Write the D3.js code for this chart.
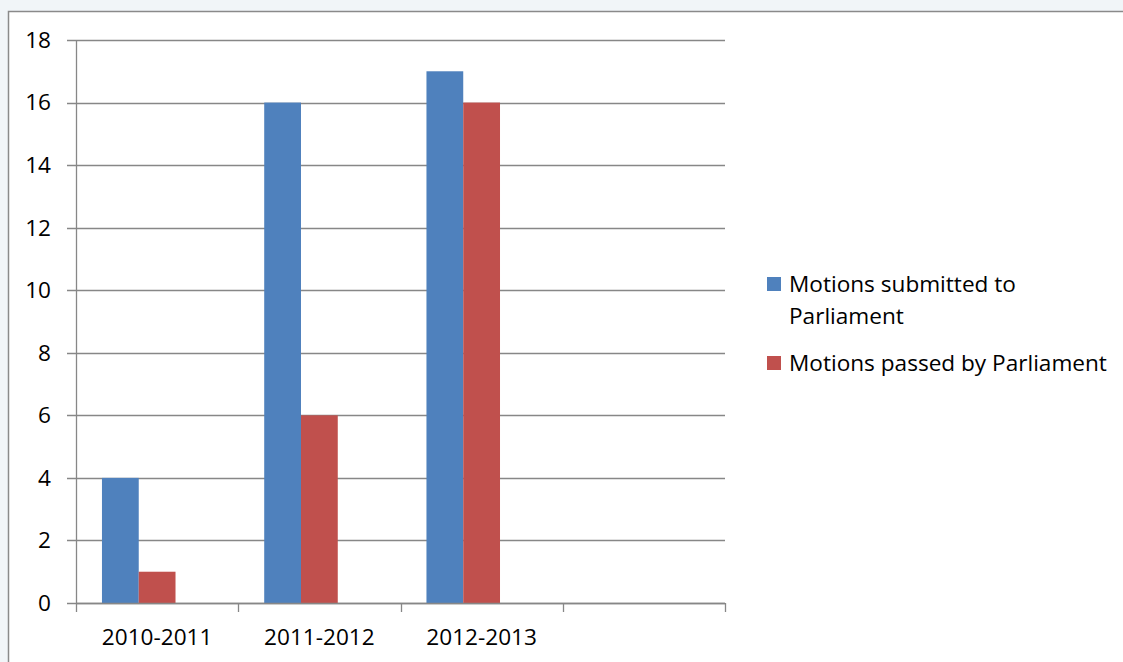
<!DOCTYPE html>
<html><head><meta charset="utf-8">
<script src="https://cdn.jsdelivr.net/npm/d3@7"></script>
<style>
html,body{margin:0;padding:0;background:#f1f5f8;}
svg{display:block;}
text{font-family:"Open Sans","Liberation Sans",sans-serif;fill:#000;}
</style></head><body>
<svg id="c" width="1123" height="662"></svg>
<script>
const categories = ["2010-2011", "2011-2012", "2012-2013", ""];
const submitted = [4, 16, 17, null];
const passed = [1, 6, 16, null];
const seriesNames = ["Motions submitted to Parliament", "Motions passed by Parliament"];
const seriesColors = ["#4f81bd", "#c0504d"];
const yTicks = [0, 2, 4, 6, 8, 10, 12, 14, 16, 18];

(function () {
const svg = d3.select("#c");
const fs = 22.6;
svg.append("rect").attr("x", 8.5).attr("y", 11.5).attr("width", 1130).attr("height", 660)
  .attr("fill", "#fff").attr("stroke", "#8a8a8a").attr("stroke-width", 1.5);

const pLeft = 76, pRight = 725, pTop = 40, pBottom = 603;
const x = d3.scaleBand().domain(d3.range(categories.length)).range([pLeft, pRight]).padding(0);
const y = d3.scaleLinear().domain([0, 18]).range([pBottom, pTop]);
const bw = x.bandwidth();
const x1 = d3.scaleBand().domain([0, 1, 2]).range([bw * 0.16, bw * 0.84]).padding(0);

const gridColor = "#878787";
svg.append("g").selectAll("line").data(yTicks).join("line")
  .attr("x1", pLeft - 9).attr("x2", pRight)
  .attr("y1", d => Math.round(y(d)) + 0.5).attr("y2", d => Math.round(y(d)) + 0.5)
  .attr("stroke", gridColor).attr("stroke-width", 1.3);

const data = categories.map((c, i) => ({i, vals: [submitted[i], passed[i]]}));
const g = svg.append("g");
data.forEach(d => {
  d.vals.forEach((v, s) => {
    if (v == null) return;
    g.append("rect")
      .attr("x", x(d.i) + x1(s)).attr("width", x1.bandwidth())
      .attr("y", y(v)).attr("height", y(0) - y(v))
      .attr("fill", seriesColors[s]);
  });
});

svg.append("line").attr("x1", pLeft + 0.5).attr("x2", pLeft + 0.5).attr("y1", pTop).attr("y2", pBottom)
  .attr("stroke", gridColor).attr("stroke-width", 1.3);
svg.append("line").attr("x1", pLeft).attr("x2", pRight).attr("y1", pBottom + 0.5).attr("y2", pBottom + 0.5)
  .attr("stroke", gridColor).attr("stroke-width", 1.5);
const bounds = d3.range(categories.length + 1).map(i => pLeft + i * bw);
svg.append("g").selectAll("line").data(bounds).join("line")
  .attr("x1", d => Math.round(d) + 0.5).attr("x2", d => Math.round(d) + 0.5)
  .attr("y1", pBottom).attr("y2", pBottom + 9)
  .attr("stroke", gridColor).attr("stroke-width", 1.3);

svg.append("g").selectAll("text").data(yTicks).join("text")
  .attr("x", 51).attr("y", d => y(d)).attr("dy", "0.35em")
  .attr("text-anchor", "end").attr("font-size", fs).text(d => d);

svg.append("g").selectAll("text").data(categories).join("text")
  .attr("x", (d, i) => x(i) + bw / 2).attr("y", 637).attr("dy", "0.35em")
  .attr("text-anchor", "middle").attr("font-size", fs).text(d => d);

const leg = svg.append("g");
leg.append("rect").attr("x", 767).attr("y", 277).attr("width", 14).attr("height", 14).attr("fill", seriesColors[0]);
leg.append("text").attr("x", 789).attr("y", 284).attr("dy", "0.35em").attr("font-size", fs).text("Motions submitted to");
leg.append("text").attr("x", 789).attr("y", 316).attr("dy", "0.35em").attr("font-size", fs).text("Parliament");
leg.append("rect").attr("x", 767).attr("y", 356).attr("width", 14).attr("height", 14).attr("fill", seriesColors[1]);
leg.append("text").attr("x", 789).attr("y", 363).attr("dy", "0.35em").attr("font-size", fs).text(seriesNames[1]);
})();
</script>
</body></html>
